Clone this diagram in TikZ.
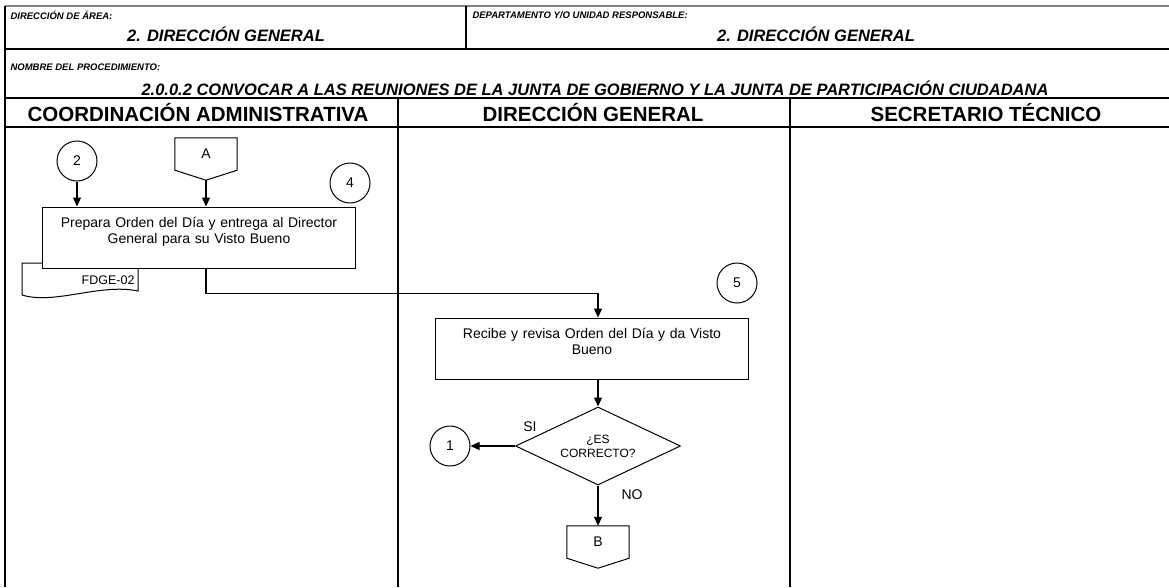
\documentclass[tikz,border=0pt]{standalone}
\usepackage{fontspec}
\setmainfont{Liberation Sans}
\usetikzlibrary{arrows.meta,shapes.geometric}

\tikzset{
  conn/.style={draw, circle, line width=1pt, minimum size=40pt, inner sep=0pt, font=\fontsize{14}{16}\selectfont},
  proc/.style={draw, fill=white, line width=1pt, minimum width=310pt, minimum height=61pt, text width=306pt, align=center, inner ysep=10pt, text depth=30pt, font=\fontsize{14}{16}\selectfont},
  decision/.style={draw, diamond, aspect=2.1, minimum width=165pt, minimum height=78pt, inner sep=0pt, align=center, line width=1pt, font=\fontsize{12}{14}\selectfont},
  offpage/.style={minimum width=62pt, minimum height=32pt, inner sep=0pt, font=\fontsize{14}{16}\selectfont},
  arr/.style={-{Triangle[length=9pt,width=8pt]}, line width=1.2pt},
  grid/.style={line width=1.1pt},
  hdsmall/.style={anchor=west, font=\fontsize{9.5}{11}\selectfont\bfseries\itshape},
  hdbig/.style={font=\fontsize{16.5}{18}\selectfont\bfseries\itshape},
  lanehead/.style={font=\fontsize{20.5}{23}\selectfont\bfseries},
  tag/.style={font=\fontsize{14}{16}\selectfont}
}

\begin{document}
\begin{tikzpicture}[x=1pt,y=-1pt]
\useasboundingbox (0,0) rectangle (1169,587);

% frame and lanes
\draw[line width=1.1pt, gray] (5,6) -- (1169,6);
\draw[grid] (5,6) -- (5,587);
\draw[grid] (466,6) -- (466,49);
\draw[grid] (5,49) -- (1169,49);
\draw[grid] (5,98) -- (1169,98);
\draw[grid] (5,127) -- (1169,127);
\draw[grid] (398,98) -- (398,587);
\draw[grid] (790,98) -- (790,587);

% header
\node[hdsmall] (areaLbl) at (7,15) {DIRECCIÓN DE ÁREA:};
\node[hdbig] (area) at (226,34) {2. DIRECCIÓN GENERAL};
\node[hdsmall] (deptLbl) at (469,15) {DEPARTAMENTO Y/O UNIDAD RESPONSABLE:};
\node[hdbig] (dept) at (816,34) {2. DIRECCIÓN GENERAL};
\node[hdsmall] (procLbl) at (7,67) {NOMBRE DEL PROCEDIMIENTO:};
\node[hdbig] (procName) at (595,88) {2.0.0.2 CONVOCAR A LAS REUNIONES DE LA JUNTA DE GOBIERNO Y LA JUNTA DE PARTICIPACIÓN CIUDADANA};

\node[lanehead] (lane1) at (198,113) {COORDINACIÓN ADMINISTRATIVA};
\node[lanehead] (lane2) at (593,113) {DIRECCIÓN GENERAL};
\node[lanehead] (lane3) at (986,113) {SECRETARIO TÉCNICO};

% coordinacion administrativa
\node[conn] (c2) at (77,161) {2};
\node[offpage] (offA) at (206,154) {A};
\draw[line width=1pt] (offA.south west) -- (offA.north west) -- (offA.north east) -- (offA.south east) -- ([yshift=-10pt]offA.south) -- cycle;
\coordinate (offAtip) at ([yshift=-10pt]offA.south);
\node[conn] (c4) at (350,183) {4};

\draw[line width=1pt] (22,263) -- (22,295) .. controls (55,305) and (100,283) .. (138,291) -- (138,263) -- cycle;
\node[proc] (prep) at (199,237.5) {Prepara Orden del Día y entrega al Director\\General para su Visto Bueno};
\node[anchor=east, font=\fontsize{12.5}{14}\selectfont] (doc) at (138,280) {FDGE-02};

\draw[arr] (c2) -- (c2 |- prep.north);
\draw[arr] (offAtip) -- (offAtip |- prep.north);

% direccion general
\node[conn] (c5) at (737,283) {5};
\node[proc] (revisa) at (592,348.5) {Recibe y revisa Orden del Día y da Visto\\Bueno};
\node[decision] (dec) at (598,446) {¿ES\\CORRECTO?};
\node[conn] (c1) at (450,446) {1};
\node[offpage] (offB) at (598,542) {B};
\draw[line width=1pt] (offB.south west) -- (offB.north west) -- (offB.north east) -- (offB.south east) -- ([yshift=-10pt]offB.south) -- cycle;

\draw[arr] (prep.south -| offAtip) -- ++(0,-25pt) -| (revisa.north -| dec.north);
\draw[arr] (revisa.south -| dec.north) -- (dec.north);
\draw[arr] (dec.west) -- (c1.east);
\draw[arr] (dec.south) -- (offB.north);
\node[tag] (si) at (530,427) {SI};
\node[tag] (no) at (632,495) {NO};
\end{tikzpicture}
\end{document}
